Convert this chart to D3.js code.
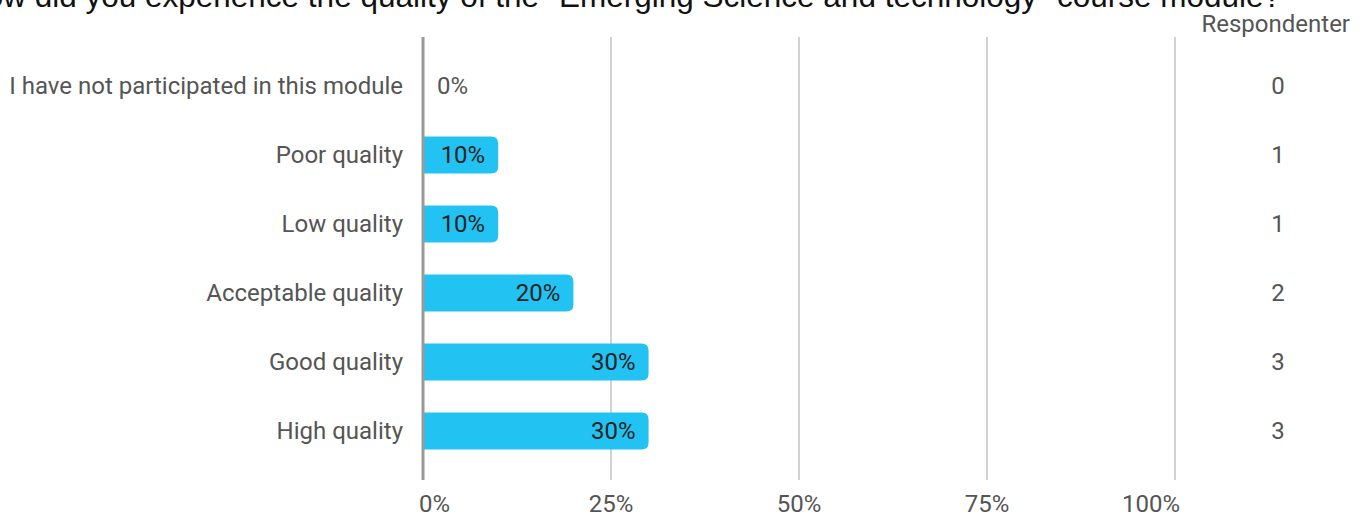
<!DOCTYPE html>
<html><head><meta charset="utf-8">
<script src="https://cdn.jsdelivr.net/npm/d3@7"></script>
<style>html,body{margin:0;padding:0;background:#fff;overflow:hidden}</style>
</head><body>
<svg id="c" width="1369" height="517"></svg>
<script>
const title = "How did you experience the quality of the \"Emerging Science and technology\" course module?";
const categories = ["I have not participated in this module","Poor quality","Low quality","Acceptable quality","Good quality","High quality"];
const percents = [0,10,10,20,30,30];
const counts = [0,1,1,2,3,3];
const ticks = [0,25,50,75,100];
const countHeader = "Respondenter";

const svg = d3.select("#c");
const font = "Roboto, 'Noto Sans', sans-serif";
const fs = 24;
const x = d3.scaleLinear().domain([0,100]).range([423,1175]);
const y = d3.scaleBand().domain(categories).range([51.5,465.5]).paddingInner(0.464).paddingOuter(0.232);

svg.append("text").attr("x",622).attr("y",7).attr("text-anchor","middle")
  .attr("font-family","'Liberation Sans', Arial, sans-serif").attr("font-size",31.5).attr("fill","#111").text(title);

// grid
svg.selectAll("line.g").data(ticks.slice(1)).join("line")
  .attr("x1",d=>x(d)).attr("x2",d=>x(d)).attr("y1",37).attr("y2",480)
  .attr("stroke","#a6a6a6").attr("stroke-width",1);

// bars
const r = 7;
svg.selectAll("path.bar").data(percents.map((p,i)=>({p,c:categories[i]})).filter(d=>d.p>0)).join("path")
  .attr("d",d=>{
    const x0=x(0), x1=x(d.p), y0=y(d.c), h=y.bandwidth();
    return `M${x0},${y0}H${x1-r}Q${x1},${y0} ${x1},${y0+r}V${y0+h-r}Q${x1},${y0+h} ${x1-r},${y0+h}H${x0}Z`;
  }).attr("fill","#22C3F3");

// axis line
svg.append("line").attr("x1",x(0)).attr("x2",x(0)).attr("y1",37).attr("y2",480)
  .attr("stroke","#999").attr("stroke-width",3);

// value labels
svg.selectAll("text.v").data(percents.map((p,i)=>({p,c:categories[i]}))).join("text")
  .attr("x",d=>d.p>0? x(d.p)-13 : x(0)+14)
  .attr("y",d=>y(d.c)+y.bandwidth()/2+8)
  .attr("text-anchor",d=>d.p>0?"end":"start")
  .attr("font-family",font).attr("font-size",fs)
  .attr("fill",d=>d.p>0?"#222":"#555").text(d=>d.p+"%");

// category labels
svg.selectAll("text.cat").data(categories).join("text")
  .attr("x",403).attr("y",d=>y(d)+y.bandwidth()/2+8).attr("text-anchor","end")
  .attr("font-family",font).attr("font-size",fs).attr("fill","#555").text(d=>d);

// counts
svg.append("text").attr("x",1350).attr("y",32).attr("text-anchor","end")
  .attr("font-family",font).attr("font-size",fs).attr("fill","#555").text(countHeader);
svg.selectAll("text.cnt").data(counts.map((n,i)=>({n,c:categories[i]}))).join("text")
  .attr("x",1278).attr("y",d=>y(d.c)+y.bandwidth()/2+8).attr("text-anchor","middle")
  .attr("font-family",font).attr("font-size",fs).attr("fill","#555").text(d=>d.n);

// tick labels
svg.selectAll("text.t").data(ticks).join("text")
  .attr("x",(d,i)=> i===0? x(d)-4 : i===ticks.length-1 ? x(d)+5 : x(d))
  .attr("y",512)
  .attr("text-anchor",(d,i)=> i===0?"start": i===ticks.length-1?"end":"middle")
  .attr("font-family",font).attr("font-size",fs).attr("fill","#555").text(d=>d+"%");
</script>
</body></html>
